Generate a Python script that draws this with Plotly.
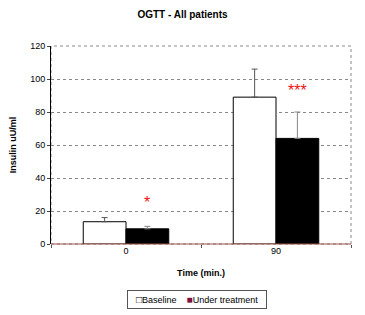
import plotly.graph_objects as go

categories = ["0", "90"]
baseline = [13.5, 89]
baseline_err = [2.5, 17]
treatment = [9.2, 64]
treatment_err = [1.5, 16]
y_ticks = [0, 20, 40, 60, 80, 100, 120]
stars = ["*", "***"]
star_y = [25, 93]
series_names = ["Baseline", "Under treatment"]

font = "Liberation Sans, Arial, sans-serif"

fig = go.Figure()
fig.add_trace(go.Bar(
    x=categories, y=baseline, name=series_names[0],
    marker=dict(color="white", line=dict(color="black", width=1)),
    error_y=dict(type="data", array=baseline_err, symmetric=False, arrayminus=[0, 0],
                 color="#555555", thickness=1, width=3),
))
fig.add_trace(go.Bar(
    x=categories, y=treatment, name=series_names[1],
    marker=dict(color="black", line=dict(color="black", width=1)),
    error_y=dict(type="data", array=treatment_err, symmetric=False, arrayminus=[0, 0],
                 color="#888888", thickness=1, width=3),
))

for i, (s, yv) in enumerate(zip(stars, star_y)):
    fig.add_annotation(x=i, y=yv, text=s, showarrow=False, xshift=21,
                       font=dict(color="#ee1111", size=16, family=font))

legend_text = (f"&nbsp;&nbsp;<span style='font-size:10px'>□</span>{series_names[0]}&nbsp;&nbsp;&nbsp;&nbsp;"
               f"<span style='color:#801040;font-size:10px'>■</span>{series_names[1]}&nbsp;&nbsp;")
fig.add_annotation(xref="paper", yref="paper", x=0.487, y=-0.278, xanchor="center", yanchor="middle",
                   text=legend_text, showarrow=False, bordercolor="#555555", borderwidth=1,
                   borderpad=3, font=dict(size=9, family=font, color="black"))

fig.update_layout(
    width=365, height=315,
    margin=dict(l=48, r=14, t=46, b=71),
    paper_bgcolor="white", plot_bgcolor="white",
    barmode="group", bargap=0.43, bargroupgap=0,
    font=dict(family=font, size=9, color="black"),
    title=dict(text="<b>OGTT - All patients</b>", x=0.5, xanchor="center",
               y=0.955, yanchor="middle", font=dict(size=10)),
    showlegend=False,
    xaxis=dict(type="category",
               title=dict(text="<b>Time (min.)</b>", font=dict(size=9), standoff=14),
               tickson="boundaries", ticks="outside", ticklen=3, tickcolor="#555",
               showgrid=False, showline=False, tickfont=dict(size=9)),
    yaxis=dict(title=dict(text="<b>Insulin uU/ml</b>", font=dict(size=9), standoff=12),
               range=[0, 120], tickvals=y_ticks, ticks="outside", ticklen=3,
               showline=True, linecolor="black", linewidth=1,
               showgrid=True, gridcolor="#888888", griddash="dot", gridwidth=1,
               zeroline=False, tickfont=dict(size=9)),
)
fig.add_shape(type="rect", xref="paper", yref="paper", x0=0, x1=1, y0=0, y1=1,
              line=dict(color="#888888", width=1, dash="dot"), layer="below")
fig.add_shape(type="line", xref="paper", yref="paper", x0=0, x1=1, y0=0, y1=0,
              line=dict(color="#a05050", width=1), layer="above")

fig.write_html("out.html", post_script="document.body.style.margin='0';",
               config={"displayModeBar": False})
